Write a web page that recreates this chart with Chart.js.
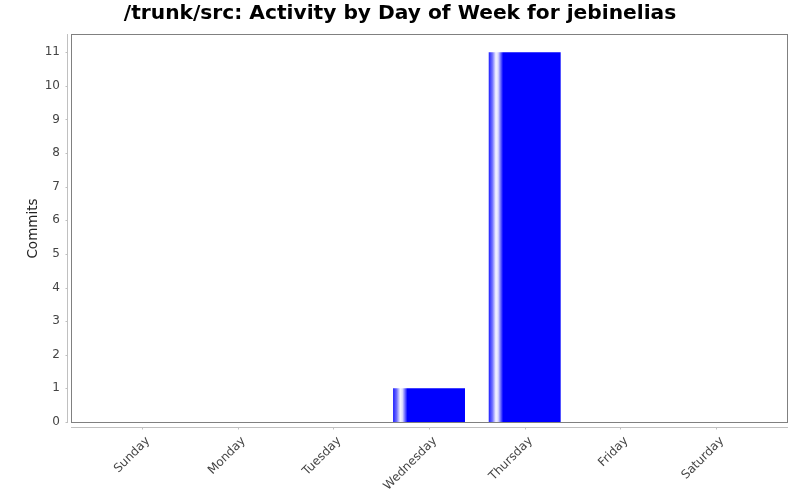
<!DOCTYPE html>
<html>
<head>
<meta charset="utf-8">
<script src="https://cdn.jsdelivr.net/npm/chart.js@4/dist/chart.umd.min.js"></script>
<style>
html,body{margin:0;padding:0;background:#fff;}
#wrap{width:800px;height:500px;}
</style>
</head>
<body>
<div id="wrap"><canvas id="c" width="800" height="500"></canvas></div>
<script>
const chartTitle = "/trunk/src: Activity by Day of Week for jebinelias";
const yAxisTitle = "Commits";
const days = ["Sunday","Monday","Tuesday","Wednesday","Thursday","Friday","Saturday"];
const commits = [0, 0, 0, 1, 11, 0, 0];
const yTicks = [0,1,2,3,4,5,6,7,8,9,10,11];

const BAR_PCT = 0.752;

function barGradient(context) {
  const chart = context.chart;
  const xs = chart.scales.x;
  if (!xs || !chart.chartArea) return 'rgb(0,0,255)';
  const i = context.dataIndex;
  const step = xs.getPixelForValue(1) - xs.getPixelForValue(0);
  const bw = step * BAR_PCT;
  const cx = xs.getPixelForValue(i);
  const left = cx - bw / 2;
  const g = chart.ctx.createLinearGradient(left, 0, left + bw, 0);
  g.addColorStop(0, 'rgb(30,30,255)');
  g.addColorStop(0.05, 'rgb(110,110,255)');
  g.addColorStop(0.1, 'rgb(245,245,255)');
  g.addColorStop(0.13, 'rgb(220,220,255)');
  g.addColorStop(0.2, 'rgb(0,0,255)');
  g.addColorStop(1, 'rgb(0,0,255)');
  return g;
}

const framePlugin = {
  id: 'frame',
  afterDraw(chart) {
    const {ctx, chartArea: a, scales} = chart;
    ctx.save();
    ctx.lineWidth = 1;
    ctx.strokeStyle = '#808080';
    ctx.strokeRect(Math.round(a.left) + 0.5, Math.round(a.top) + 0.5,
                   Math.round(a.right - a.left) - 1, Math.round(a.bottom - a.top) - 1);
    ctx.strokeStyle = '#c0c0c0';
    const ax = Math.round(a.left) - 4 + 0.5;
    ctx.beginPath();
    ctx.moveTo(ax, a.top);
    ctx.lineTo(ax, a.bottom);
    scales.y.ticks.forEach(t => {
      const y = Math.round(scales.y.getPixelForValue(t.value)) + 0.5;
      ctx.moveTo(ax - 2, y);
      ctx.lineTo(ax, y);
    });
    const ay = Math.round(a.bottom) + 4 + 0.5;
    ctx.moveTo(a.left, ay);
    ctx.lineTo(a.right, ay);
    scales.x.ticks.forEach(t => {
      const x = Math.round(scales.x.getPixelForValue(t.value)) + 0.5;
      ctx.moveTo(x, ay);
      ctx.lineTo(x, ay + 2);
    });
    ctx.stroke();
    ctx.restore();
  }
};

new Chart(document.getElementById('c'), {
  type: 'bar',
  data: {
    datasets: [{
      label: yAxisTitle,
      data: days.map((d, i) => ({x: i, y: commits[i]})),
      backgroundColor: barGradient,
      borderWidth: 0,
      categoryPercentage: 1,
      barPercentage: BAR_PCT
    }]
  },
  options: {
    responsive: false,
    animation: false,
    layout: {padding: {left: 0, right: 0, top: 0, bottom: 0}},
    plugins: {
      legend: {display: false},
      tooltip: {enabled: false},
      title: {
        display: true,
        text: chartTitle,
        color: '#000',
        font: {family: 'DejaVu Sans', size: 20.2, weight: 'bold'},
        padding: {top: 2, bottom: 7.8}
      }
    },
    scales: {
      x: {
        type: 'linear',
        offset: false,
        min: -0.742,
        max: 6.752,
        grid: {display: false, drawTicks: false},
        border: {display: false},
        afterBuildTicks(scale) {
          scale.ticks = days.map((d, i) => ({value: i}));
        },
        afterFit(scale) { scale.height = 77; },
        ticks: {
          callback: (v) => days[v],
          minRotation: 45,
          maxRotation: 45,
          autoSkip: false,
          padding: 11,
          labelOffset: 6,
          color: '#444',
          font: {family: 'DejaVu Sans', size: 12}
        }
      },
      y: {
        min: -0.03,
        max: 11.54,
        grid: {display: false, drawTicks: false},
        border: {display: false},
        afterBuildTicks(scale) {
          scale.ticks = yTicks.map(v => ({value: v}));
        },
        afterFit(scale) { scale.width = 71; },
        ticks: {
          padding: 11,
          color: '#444',
          font: {family: 'DejaVu Sans', size: 12}
        },
        title: {
          display: true,
          text: yAxisTitle,
          color: '#222',
          font: {family: 'DejaVu Sans', size: 13.5},
          padding: {top: 25, bottom: 0}
        }
      },
      yRight: {
        position: 'right',
        min: 0,
        max: 1,
        grid: {display: false, drawTicks: false},
        border: {display: false},
        ticks: {display: false},
        afterFit(scale) { scale.width = 12; }
      }
    }
  },
  plugins: [framePlugin]
});
</script>
</body>
</html>
